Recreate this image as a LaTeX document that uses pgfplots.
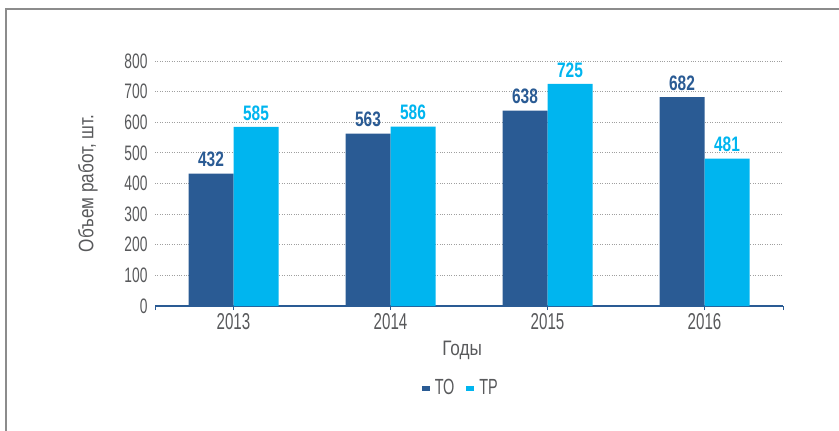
\documentclass[border=0pt]{standalone}
\usepackage{fontspec}
\setmainfont[FakeStretch=0.82]{Liberation Sans}
\newfontfamily\tickfont[FakeStretch=0.66]{Liberation Sans}
\newfontfamily\labfont[FakeStretch=0.74]{Liberation Sans}
\usepackage{pgfplots}
\pgfplotsset{compat=1.18}
\definecolor{to}{HTML}{2A5B94}
\definecolor{tr}{HTML}{00B5EF}
\definecolor{txt}{HTML}{58595B}
\definecolor{frm}{HTML}{8C8C8C}
\begin{document}
\begin{tikzpicture}[x=1bp,y=1bp]
\useasboundingbox (0,0) rectangle (839,430);
\draw[frm, line width=1.5bp] (6,-5) -- (6,421) -- (845,421);
\begin{axis}[
  at={(155bp,124bp)}, anchor=south west,
  scale only axis, width=628bp, height=245bp,
  ybar=0pt, bar width=45bp,
  xmin=-0.5, xmax=3.5, ymin=0, ymax=800,
  xtick={0,1,2,3}, xticklabels={2013,2014,2015,2016},
  extra x ticks={-0.5,3.5}, extra x tick labels={},
  ytick={0,100,...,800},
  axis x line*=bottom, axis y line*=left,
  y axis line style={draw=none},
  x axis line style={draw=to, line width=1.5bp},
  ytick style={draw=none},
  xtick style={draw=to, line width=1bp},
  extra x tick style={tick style={draw=to, line width=1bp}},
  tick align=outside, major tick length=4bp,
  ymajorgrids, xmajorgrids=false,
  grid style={dotted, color=gray!75, line width=0.9bp},
  yticklabel style={font=\tickfont\fontsize{21}{21}\selectfont, text=txt},
  xticklabel style={font=\tickfont\fontsize{23}{23}\selectfont, text=txt},
  /pgf/number format/assume math mode=true,
  ylabel={Объем работ, шт.},
  ylabel style={at={(axis description cs:-0.1067,0.5)}, anchor=center, font=\fontsize{21}{21}\selectfont, text=txt},
  xlabel={Годы},
  xlabel style={at={(axis description cs:0.489,-0.18)}, anchor=center, font=\fontsize{21}{21}\selectfont, text=txt},
  nodes near coords,
  every node near coord/.append style={font=\labfont\bfseries\fontsize{21}{21}\selectfont, yshift=3bp},
  legend style={at={(axis description cs:0.487,-0.335)}, anchor=center, draw=none,
    font=\tickfont\fontsize{22}{22}\selectfont, text=txt,
    /tikz/every even column/.append style={column sep=10bp}},
  legend columns=2,
  legend cell align=left,
]
\addplot[fill=to, draw=none, every node near coord/.append style={text=to},
  legend image code/.code={\fill[to] (0bp,-2.5bp) rectangle (8bp,2.5bp); \path (11bp,0);}]
  coordinates {(0,432) (1,563) (2,638) (3,682)};
\addplot[fill=tr, draw=none, every node near coord/.append style={text=tr},
  legend image code/.code={\fill[tr] (0bp,-2.5bp) rectangle (8bp,2.5bp); \path (11bp,0);}]
  coordinates {(0,585) (1,586) (2,725) (3,481)};
\legend{ТО, ТР}
\end{axis}
\end{tikzpicture}
\end{document}
